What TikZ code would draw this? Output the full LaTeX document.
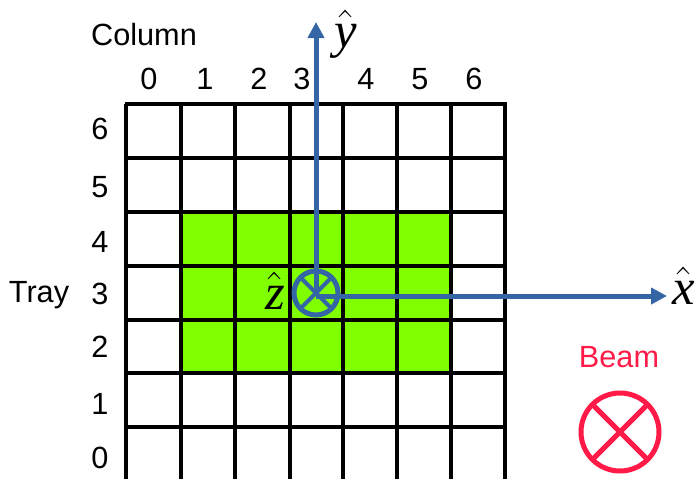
\documentclass[tikz,border=0pt]{standalone}
\usepackage{fontspec}
\setmainfont{Liberation Sans}
\newfontfamily\hatfont{Liberation Serif}
\usetikzlibrary{arrows.meta,positioning,shapes.misc}
\definecolor{axisblue}{HTML}{3465A4}
\definecolor{beamred}{HTML}{FF1A47}
\definecolor{traygreen}{HTML}{80FF00}
\newcommand{\hatvec}[1]{$\hat{\hbox{\hatfont\itshape #1}}$}

\begin{document}
\begin{tikzpicture}[
        x=0.75pt, y=-0.75pt,
        label/.style={inner sep=0pt, font=\fontsize{23}{27}\selectfont, text=black},
        hatlabel/.style={inner sep=0pt, scale=1.9, font=\fontsize{20}{24}\selectfont},
        axis/.style={draw=axisblue, line width=3.75pt, -{Triangle[length=12pt,width=12pt]}},
        origin/.style={cross out, draw=axisblue, line width=3pt, minimum size=19pt, inner sep=0pt},
        ring/.style={circle, line width=3.75pt, minimum size=33pt, inner sep=0pt},
        beamcross/.style={cross out, draw=beamred, line width=3.75pt, minimum size=39pt, inner sep=0pt}
    ]
    \useasboundingbox (0,0) rectangle (700,479);

    % Green region
    \fill[traygreen] (181,212) rectangle (451,373);

    % Grid
    \foreach \xpos in {126,181,235,290,343,397,451,505}
        \draw[line width=3pt] (\xpos,104) -- (\xpos,479);
    \foreach \ypos in {104,158,212,266,320,373,427}
        \draw[line width=3pt] (124.5,\ypos) -- (506.5,\ypos);

    % Column labels
    \node[label] (column) at (144,35) {Column};
    \foreach \col/\xpos in {0/149,1/205,2/259,3/302,4/366,5/420,6/474}
        \node[label] (col\col) at (\xpos,79) {\col};

    % Tray labels
    \node[label] (tray) at (39,295) {Tray};
    \foreach \row/\ypos in {6/129,5/187,4/242,3/294,2/347,1/404,0/458}
        \node[label] (row\row) at (100,\ypos) {\row};

    % Axes
    \coordinate (ytip) at (316,22);
    \coordinate (xtip) at (667,296);
    \coordinate (xstart) at (316,296);
    \node[origin] (zcross) at (316,293) {};
    \draw[axis] (zcross.center) -- (ytip);
    \draw[axis] (xstart) -- (xtip);
    \node[ring, draw=axisblue] (zring) at (316,293) {};
    \node[hatlabel] (yhat) at (346,34) {\hatvec{y}};
    \node[hatlabel] (xhat) at (684,286) {\hatvec{x}};
    \node[hatlabel] (zhat) at (275,291) {\hatvec{z}};

    % Beam
    \node[label, text=beamred] (beam) at (619,357) {Beam};
    \node[beamcross] (beamx) at (620,432) {};
    \node[circle, draw=beamred, line width=3.75pt, minimum size=58.5pt, inner sep=0pt] (beamring) at (620,432) {};

\end{tikzpicture}
\end{document}
